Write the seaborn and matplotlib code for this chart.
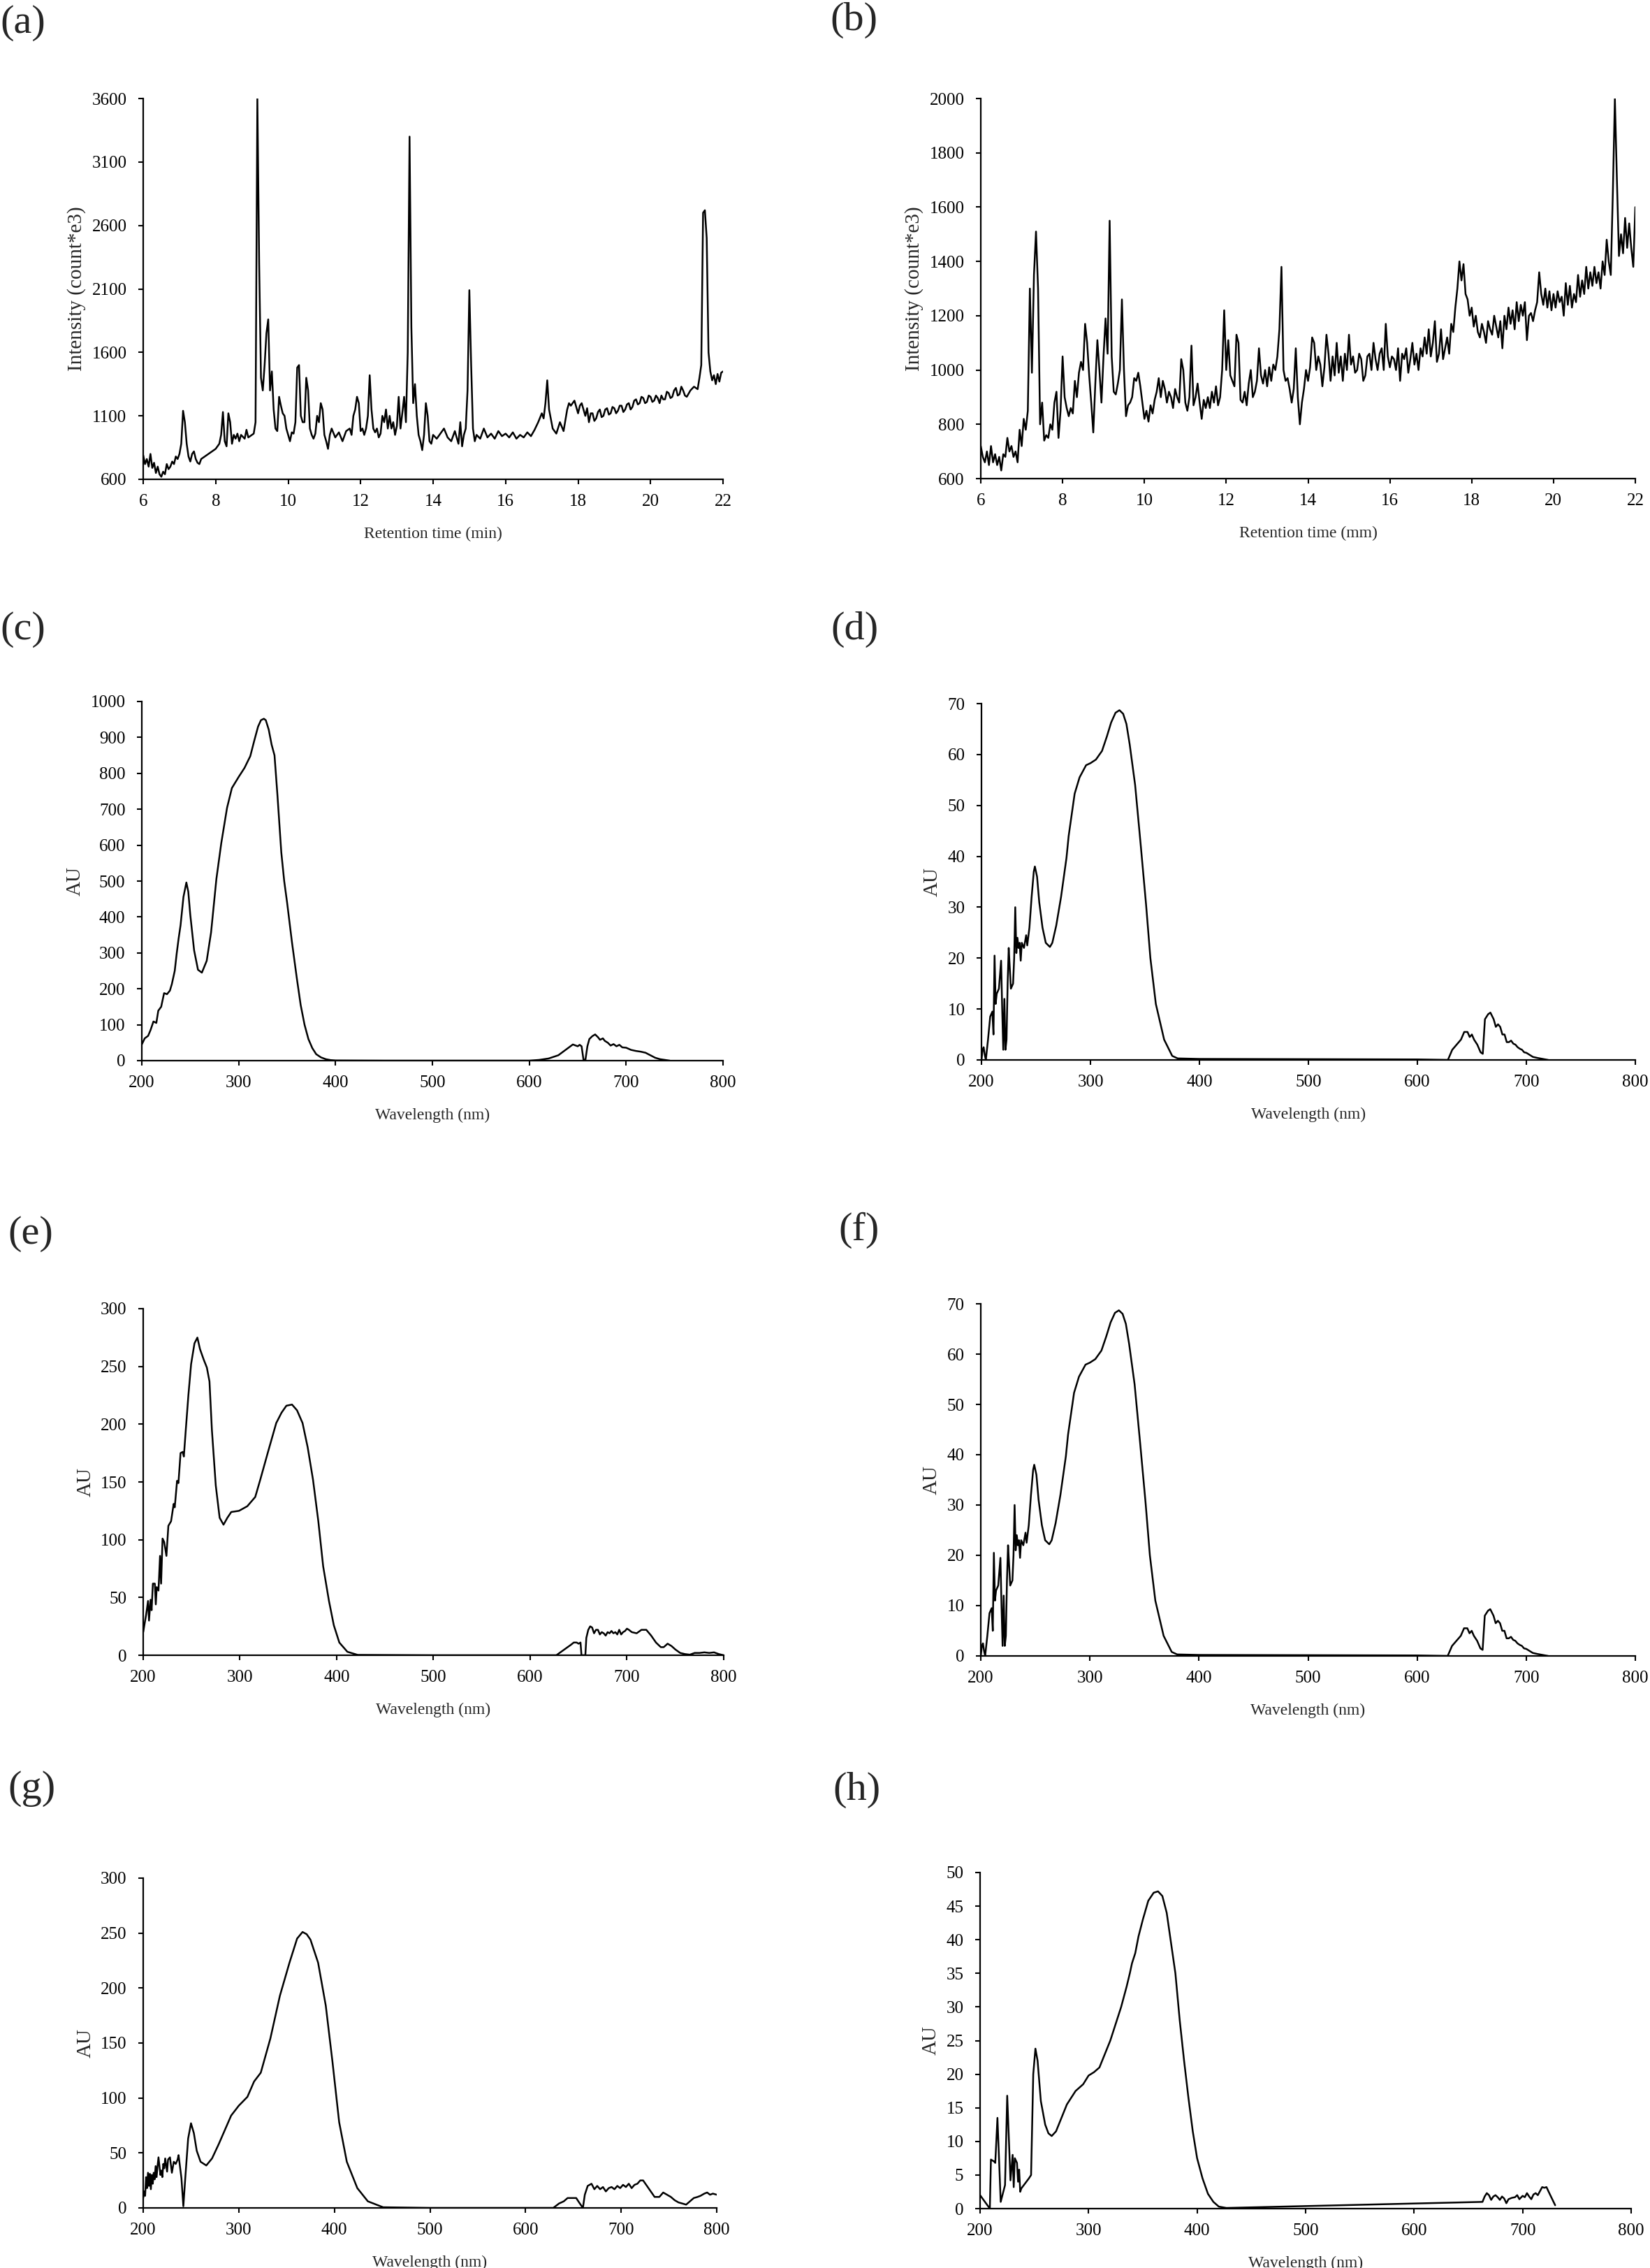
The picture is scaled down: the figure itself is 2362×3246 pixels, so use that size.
import numpy as np
import pandas as pd
import matplotlib
matplotlib.use('Agg')
import matplotlib.pyplot as plt
import seaborn as sns

# ==========================================
# DATA
# ==========================================
# (a) chromatogram, retention time (min) vs intensity
a_time = [6.0, 6.05, 6.1, 6.15, 6.2, 6.25, 6.3, 6.35, 6.4, 6.45, 6.5, 6.55, 6.6, 6.65, 6.7, 6.75, 6.8, 6.85, 6.9, 6.95,
          7.0, 7.05, 7.1, 7.15, 7.2, 7.25, 7.3, 7.35, 7.4, 7.45, 7.5, 7.55, 7.6, 7.7, 7.8, 7.9,
          8.0, 8.1, 8.15, 8.2, 8.25, 8.3, 8.35, 8.4, 8.45, 8.5, 8.55, 8.6, 8.65, 8.7, 8.8, 8.85, 8.9,
          9.0, 9.05, 9.1, 9.15, 9.2, 9.25, 9.3, 9.35, 9.4, 9.45, 9.5, 9.55, 9.6, 9.65, 9.7, 9.75, 9.8, 9.85, 9.9, 9.95,
          10.0, 10.05, 10.1, 10.15, 10.2, 10.25, 10.3, 10.35, 10.4, 10.45, 10.5, 10.55, 10.6, 10.65, 10.7, 10.75, 10.8, 10.85, 10.9, 10.95,
          11.0, 11.05, 11.1, 11.15, 11.2, 11.3, 11.4, 11.5, 11.6, 11.7, 11.75, 11.8, 11.85, 11.9, 11.95,
          12.0, 12.05, 12.1, 12.15, 12.2, 12.25, 12.3, 12.35, 12.4, 12.45, 12.5, 12.55, 12.6, 12.65, 12.7, 12.75, 12.8, 12.85, 12.9, 12.95,
          13.0, 13.05, 13.1, 13.15, 13.2, 13.25, 13.3, 13.35, 13.4, 13.45, 13.5, 13.55, 13.6, 13.65, 13.7, 13.75, 13.8, 13.85, 13.9, 13.95,
          14.0, 14.1, 14.2, 14.3, 14.4, 14.5, 14.6, 14.7, 14.75, 14.8, 14.85, 14.9, 14.95,
          15.0, 15.05, 15.1, 15.15, 15.2, 15.3, 15.4, 15.5, 15.6, 15.7, 15.8, 15.9,
          16.0, 16.1, 16.2, 16.3, 16.4, 16.5, 16.6, 16.7, 16.8, 16.9,
          17.0, 17.05, 17.1, 17.15, 17.2, 17.3, 17.4, 17.5, 17.6, 17.7, 17.75, 17.8, 17.9,
          18.0, 18.05, 18.1, 18.15, 18.2, 18.25, 18.3, 18.35, 18.4, 18.45, 18.5, 18.55, 18.6, 18.65, 18.7, 18.75, 18.8, 18.85, 18.9, 18.95,
          19.0, 19.05, 19.1, 19.15, 19.2, 19.25, 19.3, 19.35, 19.4, 19.45, 19.5, 19.55, 19.6, 19.65, 19.7, 19.75, 19.8, 19.85, 19.9, 19.95,
          20.0, 20.05, 20.1, 20.15, 20.2, 20.25, 20.3, 20.35, 20.4, 20.45, 20.5, 20.55, 20.6, 20.65, 20.7, 20.75, 20.8, 20.85, 20.9, 20.95,
          21.0, 21.1, 21.2, 21.3, 21.35, 21.4, 21.45, 21.5, 21.55, 21.6, 21.65, 21.7, 21.75, 21.8, 21.85, 21.9, 21.95, 22.0]
a_intensity = [790, 720, 760, 700, 800, 690, 730, 650, 700, 640, 620, 660, 640, 720, 680, 700, 740, 720, 780, 760,
               800, 880, 1140, 1050, 880, 780, 740, 800, 820, 760, 730, 720, 760, 780, 800, 820,
               840, 880, 950, 1130, 900, 860, 1120, 1050, 880, 950, 920, 960, 900, 950, 920, 990, 930,
               950, 960, 1050, 3600, 2300, 1400, 1300, 1500, 1750, 1860, 1300, 1450, 1150, 1000, 980, 1250, 1180, 1120, 1100, 1000,
               950, 900, 970, 960, 1050, 1480, 1500, 1100, 1050, 1050, 1400, 1300, 1000, 950, 920, 960, 1100, 1050, 1200, 1150,
               950, 900, 840, 950, 1000, 930, 970, 900, 980, 1000, 950, 1100, 1150, 1250, 1200,
               980, 1000, 950, 1000, 1100, 1420, 1150, 1000, 970, 1000, 930, 960, 1100, 1050, 1150, 1000, 1100, 1000, 1050, 950,
               1020, 1250, 1000, 1120, 1250, 1050, 1600, 3300, 1800, 1200, 1350, 1100, 950, 900, 830, 950, 1200, 1100, 900, 880,
               950, 920, 960, 1000, 930, 900, 980, 880, 1050, 860, 950, 1000, 1300,
               2090, 1500, 1000, 900, 950, 920, 1000, 930, 960, 920, 980, 940,
               960, 930, 970, 920, 950, 930, 970, 940, 990, 1050,
               1120, 1080, 1200, 1380, 1150, 1000, 960, 1050, 980, 1150, 1200, 1180, 1220,
               1120, 1180, 1200, 1150, 1100, 1160, 1050, 1120, 1120, 1060, 1080, 1130, 1150, 1090, 1100, 1150, 1160, 1110, 1120, 1170,
               1160, 1120, 1140, 1180, 1180, 1130, 1150, 1190, 1200, 1150, 1170, 1220, 1230, 1190, 1200, 1250, 1240, 1200, 1210, 1260,
               1250, 1210, 1220, 1260, 1240, 1200, 1260, 1230, 1230, 1290, 1280, 1240, 1250, 1300, 1320, 1260, 1270, 1330, 1300, 1260,
               1250, 1300, 1330, 1310, 1400, 1500, 2700, 2720, 2500, 1600, 1450, 1380, 1420, 1350, 1430, 1370, 1440, 1450]

# (b) chromatogram, retention time vs intensity
b_time = [6.0, 6.05, 6.1, 6.15, 6.2, 6.25, 6.3, 6.35, 6.4, 6.45, 6.5, 6.55, 6.6, 6.65, 6.7, 6.75, 6.8, 6.85, 6.9, 6.95,
          7.0, 7.05, 7.1, 7.15, 7.2, 7.25, 7.3, 7.35, 7.4, 7.45, 7.5, 7.55, 7.6, 7.65, 7.7, 7.75, 7.8, 7.85, 7.9, 7.95,
          8.0, 8.05, 8.1, 8.15, 8.2, 8.25, 8.3, 8.35, 8.4, 8.45, 8.5, 8.55, 8.6, 8.65, 8.7, 8.75, 8.8, 8.85, 8.9, 8.95,
          9.0, 9.05, 9.1, 9.15, 9.2, 9.25, 9.3, 9.35, 9.4, 9.45, 9.5, 9.55, 9.6, 9.65, 9.7, 9.75, 9.8, 9.85, 9.9, 9.95,
          10.0, 10.05, 10.1, 10.15, 10.2, 10.25, 10.3, 10.35, 10.4, 10.45, 10.5, 10.55, 10.6, 10.65, 10.7, 10.75, 10.8, 10.85, 10.9, 10.95,
          11.0, 11.05, 11.1, 11.15, 11.2, 11.25, 11.3, 11.35, 11.4, 11.45, 11.5, 11.55, 11.6, 11.65, 11.7, 11.75, 11.8, 11.85, 11.9, 11.95,
          12.0, 12.05, 12.1, 12.15, 12.2, 12.25, 12.3, 12.35, 12.4, 12.45, 12.5, 12.55, 12.6, 12.65, 12.7, 12.75, 12.8, 12.85, 12.9, 12.95,
          13.0, 13.05, 13.1, 13.15, 13.2, 13.25, 13.3, 13.35, 13.4, 13.45, 13.5, 13.55, 13.6, 13.65, 13.7, 13.75, 13.8, 13.85, 13.9, 13.95,
          14.0, 14.05, 14.1, 14.15, 14.2, 14.25, 14.3, 14.35, 14.4, 14.45, 14.5, 14.55, 14.6, 14.65, 14.7, 14.75, 14.8, 14.85, 14.9, 14.95,
          15.0, 15.05, 15.1, 15.15, 15.2, 15.25, 15.3, 15.35, 15.4, 15.45, 15.5, 15.55, 15.6, 15.65, 15.7, 15.75, 15.8, 15.85, 15.9, 15.95,
          16.0, 16.05, 16.1, 16.15, 16.2, 16.25, 16.3, 16.35, 16.4, 16.45, 16.5, 16.55, 16.6, 16.65, 16.7, 16.75, 16.8, 16.85, 16.9, 16.95,
          17.0, 17.05, 17.1, 17.15, 17.2, 17.25, 17.3, 17.35, 17.4, 17.45, 17.5, 17.55, 17.6, 17.65, 17.7, 17.75, 17.8, 17.85, 17.9, 17.95,
          18.0, 18.05, 18.1, 18.15, 18.2, 18.25, 18.3, 18.35, 18.4, 18.45, 18.5, 18.55, 18.6, 18.65, 18.7, 18.75, 18.8, 18.85, 18.9, 18.95,
          19.0, 19.05, 19.1, 19.15, 19.2, 19.25, 19.3, 19.35, 19.4, 19.45, 19.5, 19.55, 19.6, 19.65, 19.7, 19.75, 19.8, 19.85, 19.9, 19.95,
          20.0, 20.05, 20.1, 20.15, 20.2, 20.25, 20.3, 20.35, 20.4, 20.45, 20.5, 20.55, 20.6, 20.65, 20.7, 20.75, 20.8, 20.85, 20.9, 20.95,
          21.0, 21.05, 21.1, 21.15, 21.2, 21.25, 21.3, 21.35, 21.4, 21.45, 21.5, 21.55, 21.6, 21.65, 21.7, 21.75, 21.8, 21.85, 21.9, 21.95, 22.0]
b_intensity = [720, 680, 660, 700, 650, 720, 660, 690, 650, 680, 630, 690, 680, 750, 700, 720, 680, 700, 660, 780,
               720, 820, 780, 850, 1300, 990, 1350, 1510, 1300, 800, 880, 740, 760, 750, 800, 780, 880, 920, 750, 850,
               1050, 900, 860, 830, 860, 840, 960, 900, 990, 1030, 1000, 1170, 1100, 980, 880, 770, 950, 1110, 1000, 880,
               1050, 1190, 1060, 1550, 1050, 920, 910, 950, 1000, 1260, 1000, 830, 870, 880, 900, 970, 960, 990, 940, 880,
               820, 850, 810, 870, 840, 890, 920, 970, 900, 960, 930, 880, 920, 900, 860, 930, 900, 880, 1040, 1000,
               880, 850, 900, 1090, 870, 900, 950, 880, 820, 890, 860, 900, 860, 920, 880, 940, 870, 900, 1000, 1220,
               1000, 1110, 980, 960, 940, 1130, 1100, 890, 880, 920, 870, 950, 1000, 900, 920, 960, 1080, 980, 950, 1000,
               940, 1010, 960, 1020, 1000, 1050, 1150, 1380, 1000, 960, 970, 930, 880, 930, 1080, 900, 800, 880, 930, 1000,
               960, 1010, 1120, 1100, 1000, 1050, 1020, 940, 1010, 1130, 1060, 960, 1050, 980, 1100, 990, 1050, 960, 1060, 1000,
               1130, 1020, 1050, 990, 1000, 1060, 1040, 960, 980, 1050, 1060, 1000, 1100, 1040, 1000, 1060, 1080, 1000, 1170, 1050,
               1010, 1050, 1040, 1000, 1080, 960, 1060, 1040, 1080, 990, 1040, 1100, 1020, 1060, 1000, 1080, 1050, 1120, 1060, 1150,
               1050, 1100, 1180, 1030, 1060, 1150, 1040, 1080, 1120, 1060, 1170, 1140, 1230, 1300, 1400, 1330, 1390, 1280, 1260, 1200,
               1230, 1160, 1200, 1140, 1120, 1170, 1140, 1100, 1180, 1150, 1130, 1200, 1160, 1120, 1180, 1080, 1200, 1150, 1230, 1170,
               1220, 1150, 1250, 1180, 1240, 1200, 1250, 1110, 1200, 1210, 1180, 1220, 1250, 1360, 1280, 1240, 1300, 1230, 1290, 1220,
               1280, 1230, 1290, 1250, 1270, 1200, 1320, 1240, 1310, 1230, 1280, 1250, 1350, 1270, 1330, 1280, 1380, 1300, 1360, 1310,
               1380, 1320, 1360, 1300, 1400, 1350, 1480, 1400, 1350, 1650, 2000, 1700, 1420, 1500, 1430, 1560, 1450, 1540, 1450, 1380, 1600]

# (c) UV-Vis spectrum
c_wl = [200, 203, 206.5, 209, 212, 215, 217, 220, 223, 226, 229, 231, 234, 236, 238, 240, 243, 246, 248, 250,
        254, 258, 262, 267, 271.5, 277, 282, 288, 293, 300, 306, 312, 316, 320, 323, 326, 328, 331, 334, 337,
        340, 344, 347, 350, 355, 360, 364, 368, 372, 376, 380, 385, 390, 395, 400, 450, 500, 550, 600, 610,
        620, 630, 635, 640, 645, 648, 650, 652, 654, 656, 658, 660, 662, 665, 668, 671, 673, 676, 678, 681,
        684, 687, 690, 693, 696, 700, 705, 710, 715, 720, 725, 730, 735, 740, 745]
c_au = [45, 62, 69, 85, 109, 105, 139, 150, 188, 185, 195, 213, 250, 298, 340, 377, 456, 496, 470, 407,
        307, 253, 245, 278, 357, 506, 605, 704, 759, 790, 815, 848, 890, 930, 948, 952, 948, 922, 880, 850,
        740, 580, 500, 440, 330, 230, 155, 100, 60, 35, 18, 9, 4, 1.5, 0.5, 0, 0, 0, 0, 2,
        6, 15, 25, 35, 45, 42, 40, 44, 40, 2, 3, 40, 60, 68, 73, 65, 58, 62, 55, 50,
        42, 46, 40, 44, 37, 36, 30, 27, 25, 22, 15, 8, 4, 2, 0]

# (d) UV-Vis spectrum (panel f shows the same trace)
d_wl = [200, 201, 202, 203, 204, 206, 208, 210, 211, 212, 213, 214, 216, 218, 219, 220, 221, 222, 223, 224,
        225, 226, 227, 229, 230, 231, 232, 233, 234, 235, 236, 237, 239, 241, 242, 244, 246, 248, 249, 251,
        253, 256, 259, 262.8, 265, 268.6, 273, 278, 280, 285.5, 290, 296, 300, 305, 310.6, 315, 319, 323, 326.6, 330,
        333, 336, 341, 346, 351, 355, 360, 367.6, 375, 380, 400, 500, 600, 628, 632, 636, 640, 643, 646, 648,
        650, 652, 655, 658, 660, 662, 665, 667, 670, 672, 674, 676, 678, 680, 682, 684, 686, 688, 690, 692,
        694, 696, 698, 700, 703, 706, 710, 715, 720]
d_au = [0, 2, 2.5, 1, 0, 4, 8.5, 9.5, 5, 20.5, 11, 13, 14, 19.5, 10, 2, 12, 2, 4, 15,
        22, 18, 14, 15, 20, 30, 21, 24, 22, 23, 19.5, 23, 22, 24.5, 22.5, 26, 32, 37, 38, 36,
        31, 26, 23, 22.2, 23, 26.4, 32, 39.7, 44, 52.3, 55.5, 57.9, 58.3, 59, 60.7, 63.5, 66.3, 68.2, 68.7, 68,
        66, 62, 54, 42.5, 30.6, 20, 11, 4, 0.8, 0.3, 0.2, 0.15, 0.1, 0, 2, 3, 4, 5.5, 5.5, 4.5,
        5, 4, 3, 1.5, 1.2, 8, 9, 9.3, 8, 6.5, 7, 6.5, 5, 5, 3.5, 3.5, 3.8, 3.2, 3, 2.5,
        2.2, 2, 1.5, 1.4, 1, 0.6, 0.4, 0.2, 0]
f_wl = d_wl
f_au = d_au

# (e) UV-Vis spectrum
e_wl = [200, 203, 205, 206, 207.6, 208.7, 210, 212, 213, 214, 215.8, 217.4, 218.5, 220, 221.7, 224, 226, 228.8, 231.5, 232.6,
        235, 236.4, 238.6, 240.8, 242, 244, 246.7, 249.5, 253, 256, 258.7, 262.5, 265.8, 268.5, 271, 275, 279, 283, 287, 291,
        299, 307.6, 315.8, 321, 329, 337.5, 343, 348, 353.8, 359, 364.7, 370, 375.5, 381, 386, 392, 397, 402.7, 411, 421.7,
        500, 600, 627, 632, 637, 642, 645, 648, 650, 652, 653, 657, 658, 660, 662, 664, 666, 668, 670, 672,
        674, 676, 678, 680, 682, 684, 686, 688, 690, 692, 694, 696, 698, 700, 702, 705, 710, 715, 720, 725,
        730, 735, 738, 742, 746, 750, 755, 760, 765, 770, 775, 780, 785, 790, 795, 800]
e_au = [20, 35, 47, 30, 48, 39, 62, 62, 44, 59, 56, 86, 62, 101, 98, 86, 112, 116, 131, 128,
        151, 149, 175, 176, 172, 195, 225, 252, 270, 275, 265, 256, 249, 237, 195, 147, 119, 113, 119, 124,
        125, 129, 137, 152, 176, 201, 210, 216, 217, 212, 201, 180, 152, 116, 77, 47, 26, 11, 3, 0.3,
        0, 0, 0, 3, 6, 9, 11, 11, 10, 11, 0, 0, 15, 22, 25, 24, 19, 22, 22, 18,
        20, 19, 17, 20, 19, 21, 19, 20, 18, 22, 18, 20, 21, 23, 22, 20, 19, 22, 22, 17,
        11, 7, 7, 10, 8, 5, 2, 1, 0.5, 2, 2, 2.5, 2, 2.5, 1, 0]

# (g) UV-Vis spectrum
g_wl = [200, 201, 202, 203, 204, 205, 206, 207, 208, 209, 210, 211, 212, 213, 214, 215, 216, 218, 219, 220,
        221, 222, 223, 225, 226, 228, 230, 232, 234, 236, 237, 240, 242, 244, 247, 250, 253, 256, 260, 266,
        272, 279, 286, 292, 300, 309, 316, 323, 333, 343, 353, 361, 366.7, 371, 375, 383, 391, 398, 405, 413,
        424, 435, 451, 500, 600, 629, 635, 640, 644, 648, 653, 656, 660, 662, 665, 669, 672, 675, 678, 681,
        684, 687, 690, 693, 696, 699, 702, 705, 708, 711, 714, 717, 720, 723, 727, 731, 735, 740, 744, 748,
        752, 756, 760, 764, 768, 772, 776, 780, 783, 787, 790, 793, 796, 800]
g_au = [9, 15, 11, 28, 18, 32, 20, 31, 17, 30, 22, 32, 26, 38, 28, 38, 46, 30, 34, 28,
        40, 36, 45, 33, 44, 46, 32, 42, 40, 44, 48, 27, 1.5, 27, 63, 77, 68, 52, 42, 38.6,
        45, 58, 72, 84, 93, 101, 115, 123, 154, 193, 223, 245, 251, 249, 244, 223, 184, 133, 78, 42,
        18, 6, 0.6, 0, 0, 0, 4, 6, 9, 9, 9, 5, 0, 12, 20, 22, 17, 20, 17, 19,
        15, 18, 19, 17, 20, 18, 21, 19, 22, 18, 21, 22, 25, 25, 20, 15, 10, 10, 14, 12,
        10, 7, 5, 4, 3, 6, 9, 10, 11, 13, 14, 12, 13, 12]

# (h) UV-Vis spectrum
h_wl = [200, 209, 210, 213, 214, 216, 219, 223, 225, 228, 230, 231, 232, 234, 235, 236, 237, 238, 245, 247,
        249, 251, 253, 256, 260, 263, 266, 270, 275, 280, 288, 295, 300, 305, 310, 315, 320, 325, 330, 335,
        338, 340, 343, 346, 350, 355, 360, 364, 368, 372, 376, 380, 384, 388, 392, 396, 400, 405, 410, 415,
        420, 427, 663, 665, 667, 669, 671, 673, 675, 677, 679, 681, 683, 685, 687, 690, 693, 695, 697, 700,
        702, 704, 706, 708, 710, 712, 714, 716, 718, 720, 722, 724, 727, 730]
h_au = [2, 0, 7.3, 7, 6.8, 13.5, 1, 3.5, 16.8, 4.2, 8, 3.2, 7.5, 6.8, 4, 5.8, 2.5, 3, 4.5, 5,
        20, 23.8, 22, 16, 12.5, 11.2, 10.8, 11.5, 13.5, 15.5, 17.5, 18.5, 19.8, 20.3, 21, 23, 25, 27.5, 30, 33,
        35, 36.5, 38, 40.5, 43, 45.8, 47, 47.2, 46.5, 44, 39.5, 35, 28, 22, 16.5, 11.5, 7.5, 4.5, 2.2, 1,
        0.3, 0.1, 1.0, 1.8, 2.3, 2, 1.3, 1.8, 2, 1.7, 1.3, 1.8, 1.5, 0.8, 1.4, 1.6, 1.7, 2, 1.4, 1.9,
        1.7, 2.3, 1.8, 1.4, 2.1, 2.3, 2, 2.6, 3.2, 3.1, 3.2, 2.5, 1.5, 0.5]

# axis settings per panel
a_yticks = [600, 1100, 1600, 2100, 2600, 3100, 3600]
b_yticks = [600, 800, 1000, 1200, 1400, 1600, 1800, 2000]
rt_xticks = [6, 8, 10, 12, 14, 16, 18, 20, 22]
wl_xticks = [200, 300, 400, 500, 600, 700, 800]
c_yticks = [0, 100, 200, 300, 400, 500, 600, 700, 800, 900, 1000]
d_yticks = [0, 10, 20, 30, 40, 50, 60, 70]
e_yticks = [0, 50, 100, 150, 200, 250, 300]
h_yticks = [0, 5, 10, 15, 20, 25, 30, 35, 40, 45, 50]

# ==========================================
# STYLE
# ==========================================
sns.set_theme(style='ticks')
plt.rcParams['font.family'] = ['Liberation Serif', 'DejaVu Serif']
plt.rcParams.update({
    'axes.linewidth': 1.6,
    'xtick.major.width': 1.5,
    'ytick.major.width': 1.5,
    'xtick.major.size': 5,
    'ytick.major.size': 5,
    'xtick.major.pad': 10,
    'ytick.major.pad': 12,
    'xtick.labelsize': 18,
    'ytick.labelsize': 18,
    'xtick.color': 'black',
    'ytick.color': 'black',
    'axes.edgecolor': 'black',
})

W, H = 2362, 3246
fig = plt.figure(figsize=(W / 100, H / 100), dpi=100)
fig.patch.set_facecolor('white')


def place(left, right, top, bottom):
    return fig.add_axes([left / W, 1 - bottom / H, (right - left) / W, (bottom - top) / H])


def draw(box, x, y, xlim, ylim, xticks, yticks, xlabel, ylabel, tag, tag_xy):
    ax = place(*box)
    df = pd.DataFrame({'x': x, 'y': y})
    sns.lineplot(data=df, x='x', y='y', ax=ax, color='black', linewidth=1.8,
                 estimator=None, sort=False)
    ax.set_xlim(*xlim)
    ax.set_ylim(*ylim)
    ax.set_xticks(xticks)
    ax.set_yticks(yticks)
    ax.set_xlabel(xlabel, fontsize=17, labelpad=18)
    ax.set_ylabel(ylabel, fontsize=21, labelpad=6)
    ax.set_facecolor('white')
    sns.despine(ax=ax)
    fig.text(tag_xy[0] / W, 1 - tag_xy[1] / H, tag, fontsize=42, ha='left', va='baseline')
    return ax


draw((205, 1035, 141, 686), a_time, a_intensity, (6, 22), (600, 3600), rt_xticks, a_yticks,
     'Retention time (min)', 'Intensity (count*e3)', '(a)', (0, 47))
draw((1404, 2341, 141, 685), b_time, b_intensity, (6, 22), (600, 2000), rt_xticks, b_yticks,
     'Retention time (mm)', 'Intensity (count*e3)', '(b)', (1188, 43))
draw((203, 1035, 1004, 1518), c_wl, c_au, (200, 800), (0, 1000), wl_xticks, c_yticks,
     'Wavelength (nm)', 'AU', '(c)', (0, 915))
draw((1405, 2341, 1007, 1517), d_wl, d_au, (200, 800), (0, 70), wl_xticks, d_yticks,
     'Wavelength (nm)', 'AU', '(d)', (1189, 915))
draw((205, 1036, 1873, 2369), e_wl, e_au, (200, 800), (0, 300), wl_xticks, e_yticks,
     'Wavelength (nm)', 'AU', '(e)', (11, 1780))
draw((1404, 2341, 1866, 2370), f_wl, f_au, (200, 800), (0, 70), wl_xticks, d_yticks,
     'Wavelength (nm)', 'AU', '(f)', (1200, 1775))
draw((205, 1026, 2688, 3160), g_wl, g_au, (200, 800), (0, 300), wl_xticks, e_yticks,
     'Wavelength (nm)', 'AU', '(g)', (11, 2574))
draw((1403, 2335, 2680, 3161), h_wl, h_au, (200, 800), (0, 50), wl_xticks, h_yticks,
     'Wavelength (nm)', 'AU', '(h)', (1192, 2576))

fig.savefig('out.png', dpi=100, facecolor='white')
